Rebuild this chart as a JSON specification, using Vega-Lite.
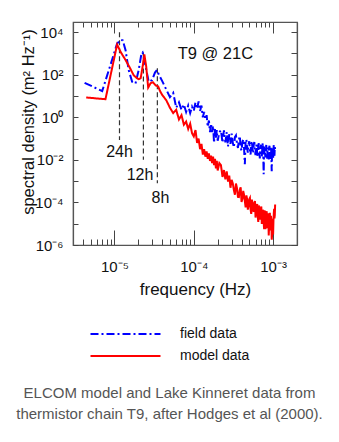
{
  "$schema": "https://vega.github.io/schema/vega-lite/v6.json",
  "width": 224,
  "height": 223,
  "autosize": {"type": "none"},
  "padding": {"left": 73, "top": 22, "right": 42, "bottom": 197},
  "background": "white",
  "config": {
    "font": "Liberation Sans",
    "view": {"stroke": "#555", "strokeWidth": 1.2},
    "axis": {"grid": false, "domainColor": "#555", "domainWidth": 1.2, "tickColor": "#444", "labelColor": "#111", "titleColor": "#111", "labelFont": "Liberation Sans", "titleFont": "Liberation Sans", "titleFontWeight": "normal", "labelOverlap": false, "labelFlush": false, "labelBound": false}
  },
  "title": {
    "text": ["ELCOM model and Lake Kinneret data from", "thermistor chain T9, after Hodges et al (2000)."],
    "orient": "bottom", "anchor": "middle", "frame": "group",
    "fontSize": 15, "fontWeight": "normal", "color": "#555", "font": "Liberation Sans",
    "lineHeight": 21, "offset": 23, "dx": -15.5
  },
  "datasets": {
    "spectra": [
      {"freq": 4.2e-6, "psd": 41.7, "series": "field data"},
      {"freq": 7.0e-6, "psd": 17.0, "series": "field data"},
      {"freq": 9.33e-6, "psd": 501, "series": "field data"},
      {"freq": 1.08e-5, "psd": 2950, "series": "field data"},
      {"freq": 1.20e-5, "psd": 4370, "series": "field data"},
      {"freq": 1.27e-5, "psd": 4170, "series": "field data"},
      {"freq": 1.38e-5, "psd": 1410, "series": "field data"},
      {"freq": 1.51e-5, "psd": 166, "series": "field data"},
      {"freq": 1.67e-5, "psd": 46.8, "series": "field data"},
      {"freq": 1.84e-5, "psd": 38.9, "series": "field data"},
      {"freq": 2.02e-5, "psd": 166, "series": "field data"},
      {"freq": 2.19e-5, "psd": 1000, "series": "field data"},
      {"freq": 2.26e-5, "psd": 1120, "series": "field data"},
      {"freq": 2.45e-5, "psd": 282, "series": "field data"},
      {"freq": 2.70e-5, "psd": 46.8, "series": "field data"},
      {"freq": 2.98e-5, "psd": 56.2, "series": "field data"},
      {"freq": 3.24e-5, "psd": 126, "series": "field data"},
      {"freq": 3.43e-5, "psd": 166, "series": "field data"},
      {"freq": 3.63e-5, "psd": 100, "series": "field data"},
      {"freq": 4.0e-5, "psd": 50.1, "series": "field data"},
      {"freq": 4.5e-5, "psd": 20.0, "series": "field data"},
      {"freq": 5.0e-5, "psd": 8.91, "series": "field data"},
      {"freq": 5.5e-5, "psd": 14.1, "series": "field data"},
      {"freq": 6.0e-5, "psd": 2.82, "series": "field data"},
      {"freq": 6.5e-5, "psd": 5.01, "series": "field data"},
      {"freq": 7.0e-5, "psd": 2.24, "series": "field data"},
      {"freq": 7.5e-5, "psd": 3.98, "series": "field data"},
      {"freq": 8.0e-5, "psd": 1.78, "series": "field data"},
      {"freq": 8.5e-5, "psd": 3.55, "series": "field data"},
      {"freq": 9.0e-5, "psd": 1.58, "series": "field data"},
      {"freq": 9.5e-5, "psd": 3.16, "series": "field data"},
      {"freq": 1.0e-4, "psd": 2.0, "series": "field data"},
      {"freq": 1.05e-4, "psd": 5.01, "series": "field data"},
      {"freq": 1.10e-4, "psd": 2.51, "series": "field data"},
      {"freq": 1.15e-4, "psd": 5.62, "series": "field data"},
      {"freq": 1.20e-4, "psd": 2.0, "series": "field data"},
      {"freq": 1.25e-4, "psd": 3.55, "series": "field data"},
      {"freq": 1.30e-4, "psd": 1.0, "series": "field data"},
      {"freq": 1.35e-4, "psd": 1.78, "series": "field data"},
      {"freq": 1.40e-4, "psd": 0.794, "series": "field data"},
      {"freq": 1.45e-4, "psd": 1.26, "series": "field data"},
      {"freq": 1.50e-4, "psd": 0.355, "series": "field data"},
      {"freq": 1.55e-4, "psd": 0.708, "series": "field data"},
      {"freq": 1.60e-4, "psd": 0.2, "series": "field data"},
      {"freq": 1.65e-4, "psd": 0.501, "series": "field data"},
      {"freq": 1.70e-4, "psd": 0.2, "series": "field data"},
      {"freq": 1.75e-4, "psd": 0.398, "series": "field data"},
      {"freq": 1.80e-4, "psd": 0.0631, "series": "field data"},
      {"freq": 1.85e-4, "psd": 0.282, "series": "field data"},
      {"freq": 1.90e-4, "psd": 0.112, "series": "field data"},
      {"freq": 1.95e-4, "psd": 0.251, "series": "field data"},
      {"freq": 2.00e-4, "psd": 0.0794, "series": "field data"},
      {"freq": 2.10e-4, "psd": 0.2, "series": "field data"},
      {"freq": 2.2e-4, "psd": 0.245, "series": "field data"},
      {"freq": 2.3e-4, "psd": 0.0646, "series": "field data"},
      {"freq": 2.4e-4, "psd": 0.245, "series": "field data"},
      {"freq": 2.5e-4, "psd": 0.0661, "series": "field data"},
      {"freq": 2.6e-4, "psd": 0.2, "series": "field data"},
      {"freq": 2.7e-4, "psd": 0.0427, "series": "field data"},
      {"freq": 2.8e-4, "psd": 0.162, "series": "field data"},
      {"freq": 2.9e-4, "psd": 0.0562, "series": "field data"},
      {"freq": 3.0e-4, "psd": 0.17, "series": "field data"},
      {"freq": 3.1e-4, "psd": 0.0646, "series": "field data"},
      {"freq": 3.2e-4, "psd": 0.0389, "series": "field data"},
      {"freq": 3.3e-4, "psd": 0.117, "series": "field data"},
      {"freq": 3.4e-4, "psd": 0.141, "series": "field data"},
      {"freq": 3.5e-4, "psd": 0.0603, "series": "field data"},
      {"freq": 3.6e-4, "psd": 0.0363, "series": "field data"},
      {"freq": 3.7e-4, "psd": 0.0871, "series": "field data"},
      {"freq": 3.8e-4, "psd": 0.132, "series": "field data"},
      {"freq": 3.9e-4, "psd": 0.0363, "series": "field data"},
      {"freq": 4.0e-4, "psd": 0.0275, "series": "field data"},
      {"freq": 4.1e-4, "psd": 0.0676, "series": "field data"},
      {"freq": 4.2e-4, "psd": 0.0912, "series": "field data"},
      {"freq": 4.3e-4, "psd": 0.0355, "series": "field data"},
      {"freq": 4.4e-4, "psd": 0.00617, "series": "field data"},
      {"freq": 4.5e-4, "psd": 0.0759, "series": "field data"},
      {"freq": 4.6e-4, "psd": 0.0912, "series": "field data"},
      {"freq": 4.7e-4, "psd": 0.0355, "series": "field data"},
      {"freq": 4.8e-4, "psd": 0.0219, "series": "field data"},
      {"freq": 4.9e-4, "psd": 0.0537, "series": "field data"},
      {"freq": 5.0e-4, "psd": 0.0741, "series": "field data"},
      {"freq": 5.1e-4, "psd": 0.0257, "series": "field data"},
      {"freq": 5.2e-4, "psd": 0.0178, "series": "field data"},
      {"freq": 5.3e-4, "psd": 0.055, "series": "field data"},
      {"freq": 5.4e-4, "psd": 0.0759, "series": "field data"},
      {"freq": 5.5e-4, "psd": 0.0295, "series": "field data"},
      {"freq": 5.6e-4, "psd": 0.0204, "series": "field data"},
      {"freq": 5.7e-4, "psd": 0.0562, "series": "field data"},
      {"freq": 5.8e-4, "psd": 0.0692, "series": "field data"},
      {"freq": 5.9e-4, "psd": 0.0245, "series": "field data"},
      {"freq": 6.0e-4, "psd": 0.017, "series": "field data"},
      {"freq": 6.1e-4, "psd": 0.0417, "series": "field data"},
      {"freq": 6.2e-4, "psd": 0.0513, "series": "field data"},
      {"freq": 6.3e-4, "psd": 0.02, "series": "field data"},
      {"freq": 6.4e-4, "psd": 0.0138, "series": "field data"},
      {"freq": 6.5e-4, "psd": 0.049, "series": "field data"},
      {"freq": 6.6e-4, "psd": 0.0603, "series": "field data"},
      {"freq": 6.7e-4, "psd": 0.024, "series": "field data"},
      {"freq": 6.8e-4, "psd": 0.0117, "series": "field data"},
      {"freq": 6.9e-4, "psd": 0.0417, "series": "field data"},
      {"freq": 7.0e-4, "psd": 0.0513, "series": "field data"},
      {"freq": 7.1e-4, "psd": 0.0182, "series": "field data"},
      {"freq": 7.2e-4, "psd": 0.0141, "series": "field data"},
      {"freq": 7.3e-4, "psd": 0.0355, "series": "field data"},
      {"freq": 7.4e-4, "psd": 0.0617, "series": "field data"},
      {"freq": 7.5e-4, "psd": 0.0195, "series": "field data"},
      {"freq": 7.6e-4, "psd": 0.00214, "series": "field data"},
      {"freq": 7.7e-4, "psd": 0.0427, "series": "field data"},
      {"freq": 7.8e-4, "psd": 0.0468, "series": "field data"},
      {"freq": 7.9e-4, "psd": 0.0209, "series": "field data"},
      {"freq": 8.0e-4, "psd": 0.0129, "series": "field data"},
      {"freq": 8.1e-4, "psd": 0.0363, "series": "field data"},
      {"freq": 8.2e-4, "psd": 0.0501, "series": "field data"},
      {"freq": 8.3e-4, "psd": 0.0158, "series": "field data"},
      {"freq": 8.4e-4, "psd": 0.011, "series": "field data"},
      {"freq": 8.5e-4, "psd": 0.0309, "series": "field data"},
      {"freq": 8.6e-4, "psd": 0.038, "series": "field data"},
      {"freq": 8.7e-4, "psd": 0.017, "series": "field data"},
      {"freq": 8.8e-4, "psd": 0.0105, "series": "field data"},
      {"freq": 8.9e-4, "psd": 0.0372, "series": "field data"},
      {"freq": 9.0e-4, "psd": 0.0457, "series": "field data"},
      {"freq": 9.1e-4, "psd": 0.0182, "series": "field data"},
      {"freq": 9.2e-4, "psd": 0.0112, "series": "field data"},
      {"freq": 9.3e-4, "psd": 0.0316, "series": "field data"},
      {"freq": 9.4e-4, "psd": 0.0407, "series": "field data"},
      {"freq": 9.5e-4, "psd": 0.0145, "series": "field data"},
      {"freq": 9.6e-4, "psd": 0.00295, "series": "field data"},
      {"freq": 9.7e-4, "psd": 0.0295, "series": "field data"},
      {"freq": 9.8e-4, "psd": 0.038, "series": "field data"},
      {"freq": 9.9e-4, "psd": 0.017, "series": "field data"},
      {"freq": 1.0e-3, "psd": 0.0107, "series": "field data"},
      {"freq": 1.01e-3, "psd": 0.0339, "series": "field data"},
      {"freq": 1.02e-3, "psd": 0.049, "series": "field data"},
      {"freq": 1.03e-3, "psd": 0.0195, "series": "field data"},
      {"freq": 1.04e-3, "psd": 0.0155, "series": "field data"},
      {"freq": 1.05e-3, "psd": 0.0398, "series": "field data"},
      {"freq": 1.06e-3, "psd": 0.0316, "series": "field data"},
      {"freq": 4.4e-6, "psd": 8.51, "series": "model data"},
      {"freq": 7.7e-6, "psd": 7.08, "series": "model data"},
      {"freq": 1.08e-5, "psd": 2630, "series": "model data"},
      {"freq": 1.20e-5, "psd": 1150, "series": "model data"},
      {"freq": 1.38e-5, "psd": 490, "series": "model data"},
      {"freq": 1.55e-5, "psd": 224, "series": "model data"},
      {"freq": 1.75e-5, "psd": 93.3, "series": "model data"},
      {"freq": 1.905e-5, "psd": 70.8, "series": "model data"},
      {"freq": 2.02e-5, "psd": 61.7, "series": "model data"},
      {"freq": 2.14e-5, "psd": 69.2, "series": "model data"},
      {"freq": 2.29e-5, "psd": 316, "series": "model data"},
      {"freq": 2.38e-5, "psd": 891, "series": "model data"},
      {"freq": 2.51e-5, "psd": 251, "series": "model data"},
      {"freq": 2.66e-5, "psd": 25.1, "series": "model data"},
      {"freq": 2.85e-5, "psd": 39.8, "series": "model data"},
      {"freq": 3.05e-5, "psd": 44.7, "series": "model data"},
      {"freq": 3.31e-5, "psd": 31.6, "series": "model data"},
      {"freq": 3.55e-5, "psd": 28.2, "series": "model data"},
      {"freq": 3.79e-5, "psd": 15.8, "series": "model data"},
      {"freq": 4.0e-5, "psd": 11.2, "series": "model data"},
      {"freq": 4.5e-5, "psd": 6.31, "series": "model data"},
      {"freq": 5.0e-5, "psd": 2.82, "series": "model data"},
      {"freq": 5.5e-5, "psd": 1.58, "series": "model data"},
      {"freq": 6.0e-5, "psd": 2.24, "series": "model data"},
      {"freq": 6.5e-5, "psd": 0.794, "series": "model data"},
      {"freq": 7.0e-5, "psd": 1.26, "series": "model data"},
      {"freq": 7.5e-5, "psd": 0.447, "series": "model data"},
      {"freq": 8.0e-5, "psd": 0.631, "series": "model data"},
      {"freq": 8.5e-5, "psd": 0.282, "series": "model data"},
      {"freq": 9.0e-5, "psd": 0.501, "series": "model data"},
      {"freq": 9.5e-5, "psd": 0.178, "series": "model data"},
      {"freq": 1.0e-4, "psd": 0.126, "series": "model data"},
      {"freq": 1.05e-4, "psd": 0.251, "series": "model data"},
      {"freq": 1.10e-4, "psd": 0.0631, "series": "model data"},
      {"freq": 1.15e-4, "psd": 0.1, "series": "model data"},
      {"freq": 1.20e-4, "psd": 0.0316, "series": "model data"},
      {"freq": 1.25e-4, "psd": 0.0562, "series": "model data"},
      {"freq": 1.30e-4, "psd": 0.0178, "series": "model data"},
      {"freq": 1.35e-4, "psd": 0.0316, "series": "model data"},
      {"freq": 1.40e-4, "psd": 0.0141, "series": "model data"},
      {"freq": 1.45e-4, "psd": 0.0251, "series": "model data"},
      {"freq": 1.50e-4, "psd": 0.0112, "series": "model data"},
      {"freq": 1.55e-4, "psd": 0.02, "series": "model data"},
      {"freq": 1.60e-4, "psd": 0.00891, "series": "model data"},
      {"freq": 1.65e-4, "psd": 0.0158, "series": "model data"},
      {"freq": 1.70e-4, "psd": 0.00708, "series": "model data"},
      {"freq": 1.75e-4, "psd": 0.0141, "series": "model data"},
      {"freq": 1.80e-4, "psd": 0.00562, "series": "model data"},
      {"freq": 1.85e-4, "psd": 0.0112, "series": "model data"},
      {"freq": 1.90e-4, "psd": 0.00398, "series": "model data"},
      {"freq": 1.95e-4, "psd": 0.00891, "series": "model data"},
      {"freq": 2.00e-4, "psd": 0.00316, "series": "model data"},
      {"freq": 2.10e-4, "psd": 0.00708, "series": "model data"},
      {"freq": 2.2e-4, "psd": 0.00562, "series": "model data"},
      {"freq": 2.3e-4, "psd": 0.00158, "series": "model data"},
      {"freq": 2.4e-4, "psd": 0.00331, "series": "model data"},
      {"freq": 2.5e-4, "psd": 0.00123, "series": "model data"},
      {"freq": 2.6e-4, "psd": 0.00288, "series": "model data"},
      {"freq": 2.7e-4, "psd": 0.000955, "series": "model data"},
      {"freq": 2.8e-4, "psd": 0.00182, "series": "model data"},
      {"freq": 2.9e-4, "psd": 0.00049, "series": "model data"},
      {"freq": 3.0e-4, "psd": 0.00115, "series": "model data"},
      {"freq": 3.1e-4, "psd": 0.000794, "series": "model data"},
      {"freq": 3.2e-4, "psd": 0.00038, "series": "model data"},
      {"freq": 3.3e-4, "psd": 0.000229, "series": "model data"},
      {"freq": 3.4e-4, "psd": 0.000776, "series": "model data"},
      {"freq": 3.5e-4, "psd": 0.000468, "series": "model data"},
      {"freq": 3.6e-4, "psd": 0.000182, "series": "model data"},
      {"freq": 3.7e-4, "psd": 0.000178, "series": "model data"},
      {"freq": 3.8e-4, "psd": 0.000398, "series": "model data"},
      {"freq": 3.9e-4, "psd": 0.000513, "series": "model data"},
      {"freq": 4.0e-4, "psd": 0.000105, "series": "model data"},
      {"freq": 4.1e-4, "psd": 0.000151, "series": "model data"},
      {"freq": 4.2e-4, "psd": 0.000347, "series": "model data"},
      {"freq": 4.3e-4, "psd": 0.000224, "series": "model data"},
      {"freq": 4.4e-4, "psd": 0.000115, "series": "model data"},
      {"freq": 4.5e-4, "psd": 5.89e-5, "series": "model data"},
      {"freq": 4.6e-4, "psd": 0.000214, "series": "model data"},
      {"freq": 4.7e-4, "psd": 0.000141, "series": "model data"},
      {"freq": 4.8e-4, "psd": 4.57e-5, "series": "model data"},
      {"freq": 4.9e-4, "psd": 6.76e-5, "series": "model data"},
      {"freq": 5.0e-4, "psd": 0.000141, "series": "model data"},
      {"freq": 5.1e-4, "psd": 0.000162, "series": "model data"},
      {"freq": 5.2e-4, "psd": 4.79e-5, "series": "model data"},
      {"freq": 5.3e-4, "psd": 2.88e-5, "series": "model data"},
      {"freq": 5.4e-4, "psd": 0.000135, "series": "model data"},
      {"freq": 5.5e-4, "psd": 8.13e-5, "series": "model data"},
      {"freq": 5.6e-4, "psd": 4.27e-5, "series": "model data"},
      {"freq": 5.7e-4, "psd": 3.63e-5, "series": "model data"},
      {"freq": 5.8e-4, "psd": 9.77e-5, "series": "model data"},
      {"freq": 5.9e-4, "psd": 0.000115, "series": "model data"},
      {"freq": 6.0e-4, "psd": 1.95e-5, "series": "model data"},
      {"freq": 6.1e-4, "psd": 3.72e-5, "series": "model data"},
      {"freq": 6.2e-4, "psd": 6.31e-5, "series": "model data"},
      {"freq": 6.3e-4, "psd": 8.51e-5, "series": "model data"},
      {"freq": 6.4e-4, "psd": 2.24e-5, "series": "model data"},
      {"freq": 6.5e-4, "psd": 1.2e-5, "series": "model data"},
      {"freq": 6.6e-4, "psd": 7.24e-5, "series": "model data"},
      {"freq": 6.7e-4, "psd": 4.9e-5, "series": "model data"},
      {"freq": 6.8e-4, "psd": 2.09e-5, "series": "model data"},
      {"freq": 6.9e-4, "psd": 1.58e-5, "series": "model data"},
      {"freq": 7.0e-4, "psd": 4.79e-5, "series": "model data"},
      {"freq": 7.1e-4, "psd": 6.46e-5, "series": "model data"},
      {"freq": 7.2e-4, "psd": 9.77e-6, "series": "model data"},
      {"freq": 7.3e-4, "psd": 1.86e-5, "series": "model data"},
      {"freq": 7.4e-4, "psd": 4.47e-5, "series": "model data"},
      {"freq": 7.5e-4, "psd": 3.8e-5, "series": "model data"},
      {"freq": 7.6e-4, "psd": 1.15e-5, "series": "model data"},
      {"freq": 7.7e-4, "psd": 5.5e-6, "series": "model data"},
      {"freq": 7.8e-4, "psd": 4.27e-5, "series": "model data"},
      {"freq": 7.9e-4, "psd": 2.57e-5, "series": "model data"},
      {"freq": 8.0e-4, "psd": 5.5e-6, "series": "model data"},
      {"freq": 8.1e-4, "psd": 1.17e-5, "series": "model data"},
      {"freq": 8.2e-4, "psd": 2.82e-5, "series": "model data"},
      {"freq": 8.3e-4, "psd": 3.89e-5, "series": "model data"},
      {"freq": 8.4e-4, "psd": 7.41e-6, "series": "model data"},
      {"freq": 8.5e-4, "psd": 6.31e-6, "series": "model data"},
      {"freq": 8.6e-4, "psd": 3.09e-5, "series": "model data"},
      {"freq": 8.7e-4, "psd": 1.86e-5, "series": "model data"},
      {"freq": 8.8e-4, "psd": 2.82e-6, "series": "model data"},
      {"freq": 8.9e-4, "psd": 6.92e-6, "series": "model data"},
      {"freq": 9.0e-4, "psd": 2.34e-5, "series": "model data"},
      {"freq": 9.1e-4, "psd": 3.24e-5, "series": "model data"},
      {"freq": 9.2e-4, "psd": 4.9e-6, "series": "model data"},
      {"freq": 9.3e-4, "psd": 7.59e-6, "series": "model data"},
      {"freq": 9.4e-4, "psd": 2.34e-5, "series": "model data"},
      {"freq": 9.5e-4, "psd": 1.45e-5, "series": "model data"},
      {"freq": 9.6e-4, "psd": 1.78e-6, "series": "model data"},
      {"freq": 9.7e-4, "psd": 2.75e-6, "series": "model data"},
      {"freq": 9.8e-4, "psd": 1.7e-5, "series": "model data"},
      {"freq": 9.9e-4, "psd": 1.45e-5, "series": "model data"},
      {"freq": 1.0e-3, "psd": 3.16e-6, "series": "model data"},
      {"freq": 1.01e-3, "psd": 1.41e-5, "series": "model data"},
      {"freq": 1.02e-3, "psd": 3.16e-5, "series": "model data"},
      {"freq": 1.03e-3, "psd": 5.01e-5, "series": "model data"},
      {"freq": 1.04e-3, "psd": 1.78e-5, "series": "model data"},
      {"freq": 1.05e-3, "psd": 2.51e-5, "series": "model data"},
      {"freq": 1.06e-3, "psd": 7.94e-5, "series": "model data"}
    ],
    "periods": [
      {"period": "24h", "freq": 1.157e-5, "top": 10000, "bottom": 0.085},
      {"period": "12h", "freq": 2.315e-5, "top": 1100, "bottom": 0.01},
      {"period": "8h", "freq": 3.472e-5, "top": 200, "bottom": 0.0008}
    ],
    "periodLabels": [
      {"label": "24h", "freq": 1.157e-5, "psd": 0.0234},
      {"label": "12h", "freq": 2.1e-5, "psd": 0.00195},
      {"label": "8h", "freq": 3.8e-5, "psd": 0.000162}
    ],
    "note": [
      {"label": "T9 @ 21C", "freq": 1.87e-4, "psd": 930}
    ]
  },
  "layer": [
    {
      "data": {"name": "periods"},
      "mark": {"type": "rule", "strokeDash": [5, 3], "strokeWidth": 1.2, "color": "#333"},
      "encoding": {
        "x": {"field": "freq", "type": "quantitative",
          "scale": {"type": "log", "domain": [3e-6, 2e-3], "nice": false},
          "axis": {"orient": "top", "title": null, "labels": false,
            "values": [4e-6,5e-6,6e-6,7e-6,8e-6,9e-6,1e-5,2e-5,3e-5,4e-5,5e-5,6e-5,7e-5,8e-5,9e-5,1e-4,2e-4,3e-4,4e-4,5e-4,6e-4,7e-4,8e-4,9e-4,1e-3],
            "tickSize": {"condition": {"test": "abs(log(datum.value)/LN10 - round(log(datum.value)/LN10)) < 0.01", "value": -11}, "value": -5}}},
        "y": {"field": "top", "type": "quantitative",
          "scale": {"type": "log", "domain": [1e-6, 30000], "nice": false},
          "axis": {"orient": "right", "title": null, "labels": false, "tickSize": -6,
            "values": [1e-6,1e-5,1e-4,1e-3,1e-2,1e-1,1,10,100,1000,10000]}},
        "y2": {"field": "bottom"}
      }
    },
    {
      "data": {"name": "spectra"},
      "mark": {"type": "line", "strokeWidth": 2, "clip": true},
      "encoding": {
        "x": {"field": "freq", "type": "quantitative",
          "scale": {"type": "log", "domain": [3e-6, 2e-3], "nice": false},
          "axis": {"orient": "bottom", "title": "frequency (Hz)", "titleFontSize": 17,
            "titleX": 122, "titleY": 49, "titleBaseline": "alphabetic",
            "values": [4e-6,5e-6,6e-6,7e-6,8e-6,9e-6,1e-5,2e-5,3e-5,4e-5,5e-5,6e-5,7e-5,8e-5,9e-5,1e-4,2e-4,3e-4,4e-4,5e-4,6e-4,7e-4,8e-4,9e-4,1e-3],
            "labelExpr": "abs(datum.value-1e-5)<1e-9 ? '10⁻⁵' : abs(datum.value-1e-4)<1e-8 ? '10⁻⁴' : abs(datum.value-1e-3)<1e-7 ? '10⁻³' : ''",
            "labelFontSize": 15, "labelPadding": 41.7, "labelBaseline": "alphabetic",
            "tickSize": {"condition": {"test": "abs(log(datum.value)/LN10 - round(log(datum.value)/LN10)) < 0.01", "value": -15}, "value": -6}}},
        "y": {"field": "psd", "type": "quantitative",
          "scale": {"type": "log", "domain": [1e-6, 30000], "nice": false},
          "axis": {"orient": "left", "title": "spectral density (m² Hz⁻¹)", "titleFontSize": 16.5,
            "titleAngle": -90, "titleX": -40, "titleY": 99.5, "titleAlign": "center", "titleBaseline": "alphabetic",
            "values": [1e-6,1e-5,1e-4,1e-3,1e-2,1e-1,1,10,100,1000,10000],
            "labelExpr": "round(log(datum.value)/LN10) == 4 ? '10⁴' : round(log(datum.value)/LN10) == 2 ? '10²' : round(log(datum.value)/LN10) == 0 ? '10⁰' : round(log(datum.value)/LN10) == -2 ? '10⁻²' : round(log(datum.value)/LN10) == -4 ? '10⁻⁴' : round(log(datum.value)/LN10) == -6 ? '10⁻⁶' : ''",
            "labelFontSize": 15, "labelPadding": 15, "tickSize": -5}},
        "color": {"field": "series", "type": "nominal",
          "scale": {"domain": ["field data", "model data"], "range": ["#0000ff", "#ff0000"]},
          "legend": {"orient": "none", "legendX": 44.5, "legendY": 304, "title": null, "padding": 0,
            "symbolType": "M-5,0H5", "symbolSize": 196, "symbolStrokeWidth": 2,
            "labelFontSize": 14, "labelOffset": 46.5, "rowPadding": 7, "labelColor": "#111", "labelFont": "Liberation Sans"}},
        "strokeDash": {"field": "series", "type": "nominal",
          "scale": {"domain": ["field data", "model data"], "range": [[8, 3, 2, 3], [1, 0]]},
          "legend": {"orient": "none", "legendX": 44.5, "legendY": 304, "title": null, "padding": 0,
            "symbolType": "M-5,0H5", "symbolSize": 196, "symbolStrokeWidth": 2,
            "labelFontSize": 14, "labelOffset": 46.5, "rowPadding": 7, "labelColor": "#111", "labelFont": "Liberation Sans"}}
      }
    },
    {
      "data": {"name": "periodLabels"},
      "mark": {"type": "text", "fontSize": 16, "color": "#111", "align": "center", "baseline": "middle", "font": "Liberation Sans"},
      "encoding": {
        "x": {"field": "freq", "type": "quantitative", "scale": {"type": "log", "domain": [3e-6, 2e-3], "nice": false}, "axis": null},
        "y": {"field": "psd", "type": "quantitative", "scale": {"type": "log", "domain": [1e-6, 30000], "nice": false}, "axis": null},
        "text": {"field": "label"}
      }
    },
    {
      "data": {"name": "note"},
      "mark": {"type": "text", "fontSize": 16.5, "color": "#111", "align": "center", "baseline": "middle", "font": "Liberation Sans"},
      "encoding": {
        "x": {"field": "freq", "type": "quantitative", "scale": {"type": "log", "domain": [3e-6, 2e-3], "nice": false}, "axis": null},
        "y": {"field": "psd", "type": "quantitative", "scale": {"type": "log", "domain": [1e-6, 30000], "nice": false}, "axis": null},
        "text": {"field": "label"}
      }
    }
  ],
  "resolve": {"axis": {"x": "independent", "y": "independent"}}
}
